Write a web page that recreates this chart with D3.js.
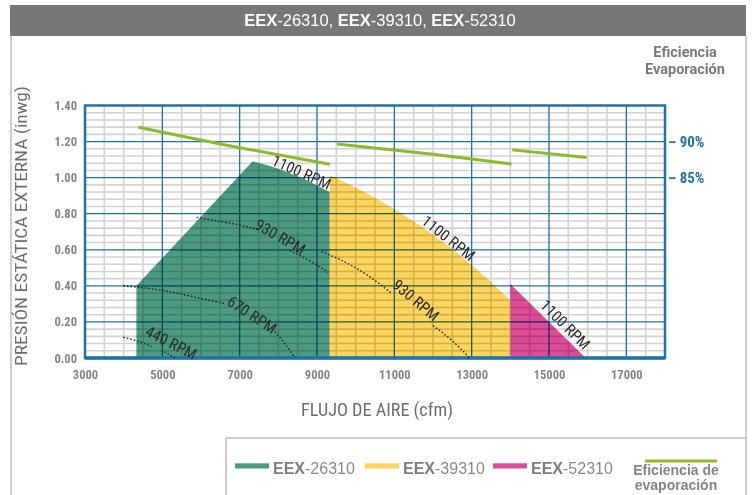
<!DOCTYPE html>
<html><head><meta charset="utf-8">
<script src="https://cdn.jsdelivr.net/npm/d3@7/dist/d3.min.js"></script>
<style>
html,body{margin:0;padding:0;background:#fff;}
svg{display:block;}
</style></head>
<body>
<svg id="chart" width="754" height="495"></svg>
<script>
// ---------- data ----------
const titleParts = [["EEX","-26310, "],["EEX","-39310, "],["EEX","-52310"]];
const xTicks = [3000,5000,7000,9000,11000,13000,15000,17000];
const yTicks = [0,0.2,0.4,0.6,0.8,1.0,1.2,1.4];
const effTicks = [85,90];
const seriesNames = ["EEX-26310","EEX-39310","EEX-52310"];
const seriesColors = ["#4c9a82","#fdd45c","#de4b98"];
// fan envelopes: [cfm, inwg]
const eex26310 = [[4330,0],[4330,0.40],[7330,1.09],[7700,1.07],[8000,1.05],[8350,1.02],[8700,0.99],[9000,0.957],[9330,0.92],[9330,0]];
const eex39310Top = [[9330,1.015],[10400,0.90],[11450,0.765],[12700,0.57],[14000,0.32]];
const eex52310 = [[14000,0],[14000,0.41],[15950,0]];
// RPM curves (null = gap for label)
const rpm930a = [[5890,0.78],[6500,0.757],[7100,0.733],[7480,0.71],null,[8300,0.595],[8800,0.54],[9290,0.475]];
const rpm930b = [[9120,0.59],[9600,0.545],[10300,0.46],[10950,0.355],null,[12000,0.18],[12500,0.095],[12950,0.0]];
const rpm670 = [[3990,0.40],[5000,0.375],[6000,0.33],[6650,0.30],null,[7850,0.16],[8150,0.085],[8430,0.0]];
const rpm440 = [[3990,0.115],[4350,0.095],[4720,0.063],null,[5050,0.035],[5330,0.0]];
const rpmLabels = [
  {t:"1100 RPM", x:8600, y:1.03, a:24},
  {t:"930 RPM",  x:8050, y:0.672, a:30},
  {t:"670 RPM",  x:7320, y:0.24, a:33},
  {t:"440 RPM",  x:5230, y:0.085, a:27},
  {t:"1100 RPM", x:12400, y:0.665, a:38},
  {t:"930 RPM",  x:11560, y:0.32, a:40},
  {t:"1100 RPM", x:15420, y:0.185, a:45}
];
// evaporation efficiency segments: [cfm, %]
const eff1 = [[4380,92.0],[7000,89.15],[9330,86.85]];
const eff2 = [[9520,89.67],[12000,88.25],[14030,86.9]];
const eff3 = [[14050,88.85],[15970,87.8]];

// ---------- scales ----------
const svg = d3.select("#chart");
const x = d3.scaleLinear().domain([3000,18000]).range([85,665]);
const y = d3.scaleLinear().domain([0,1.4]).range([358,105.5]);
const yEff = d3.scaleLinear().domain([85,90]).range([y(1.0), y(1.2)]);
const BLUE = "#1f72aa";
const NARROW = "'Liberation Sans Narrow','Roboto Condensed','Arial Narrow',Roboto,sans-serif";
const SANS = "'Liberation Sans',Arial,sans-serif";

// ---------- frame ----------
svg.append("rect").attr("x",0).attr("y",0).attr("width",754).attr("height",495).attr("fill","#fff");
svg.append("rect").attr("x",10).attr("y",5).attr("width",736).attr("height",31).attr("fill","#777777");
const tt = svg.append("text").attr("x",380).attr("y",26).attr("text-anchor","middle")
  .attr("font-family",SANS).attr("font-size",16.5).attr("fill","#fff");
titleParts.forEach(p=>{ tt.append("tspan").attr("font-weight","bold").text(p[0]); tt.append("tspan").text(p[1]); });
svg.append("line").attr("x1",11).attr("x2",11).attr("y1",36).attr("y2",495).attr("stroke","#bdbdbd").attr("stroke-width",1.5);
svg.append("line").attr("x1",746).attr("x2",746).attr("y1",36).attr("y2",495).attr("stroke","#bdbdbd").attr("stroke-width",1.5);
svg.append("line").attr("x1",226).attr("x2",746).attr("y1",438).attr("y2",438).attr("stroke","#bdbdbd").attr("stroke-width",1.5);
svg.append("line").attr("x1",226).attr("x2",226).attr("y1",438).attr("y2",495).attr("stroke","#bdbdbd").attr("stroke-width",1.5);

// ---------- fills ----------
const lineLin = d3.line().x(d=>x(d[0])).y(d=>y(d[1]));
svg.append("path").attr("d",lineLin(eex26310)+"Z").attr("fill",seriesColors[0]);
const area = d3.area().x(d=>x(d[0])).y0(y(0)).y1(d=>y(d[1])).curve(d3.curveMonotoneX);
svg.append("path").attr("d",area(eex39310Top)).attr("fill",seriesColors[1]);
svg.append("path").attr("d",lineLin(eex52310)+"Z").attr("fill",seriesColors[2]);

// ---------- grid (multiplied over fills) ----------
const grid = svg.append("g").style("mix-blend-mode","multiply");
const majorX = d3.range(5000,18000,2000);
const minorX = d3.range(3500,18000,500).filter(v=>!majorX.includes(v));
const minorY = d3.range(0.04,1.4,0.04).filter(v=>Math.abs(v/0.2-Math.round(v/0.2))>0.01);
const majorY = d3.range(0.2,1.4,0.2);
grid.selectAll(".mx").data(minorX).join("line")
  .attr("x1",d=>x(d)).attr("x2",d=>x(d)).attr("y1",y(1.4)).attr("y2",y(0))
  .attr("stroke","#d2d2d2").attr("stroke-width",1.6);
grid.selectAll(".my").data(minorY).join("line")
  .attr("x1",x(3000)).attr("x2",x(18000)).attr("y1",d=>y(d)).attr("y2",d=>y(d))
  .attr("stroke","#d2d2d2").attr("stroke-width",1.6);
grid.selectAll(".Mx").data(majorX).join("line")
  .attr("x1",d=>x(d)).attr("x2",d=>x(d)).attr("y1",y(1.4)).attr("y2",y(0))
  .attr("stroke",BLUE).attr("stroke-width",1.3);
grid.selectAll(".My").data(majorY).join("line")
  .attr("x1",x(3000)).attr("x2",x(18000)).attr("y1",d=>y(d)).attr("y2",d=>y(d))
  .attr("stroke",BLUE).attr("stroke-width",1.3);

// plot border
svg.append("rect").attr("x",x(3000)).attr("y",y(1.4)).attr("width",x(18000)-x(3000)).attr("height",y(0)-y(1.4))
  .attr("fill","none").attr("stroke",BLUE).attr("stroke-width",2.5);
svg.append("line").attr("x1",x(3000)).attr("x2",x(18000)).attr("y1",y(0)).attr("y2",y(0))
  .attr("stroke",BLUE).attr("stroke-width",3.5);

// ---------- RPM dotted curves ----------
const dotted = d3.line().defined(d=>d!==null).x(d=>x(d[0])).y(d=>y(d[1])).curve(d3.curveMonotoneX);
[rpm930a,rpm930b,rpm670,rpm440].forEach(c=>{
  svg.append("path").attr("d",dotted(c)).attr("fill","none").attr("stroke","#1a1a1a")
    .attr("stroke-width",1.3).attr("stroke-dasharray","1.6,2");
});
svg.selectAll(".rpm").data(rpmLabels).join("text")
  .attr("transform",d=>`translate(${x(d.x)},${y(d.y)}) rotate(${d.a})`)
  .attr("text-anchor","middle").attr("dy","0.35em")
  .attr("font-family",NARROW).attr("font-size",15.5).attr("fill","#2b2b2b").text(d=>d.t);

// ---------- efficiency lines ----------
const effLine = d3.line().x(d=>x(d[0])).y(d=>yEff(d[1])).curve(d3.curveMonotoneX);
[eff1,eff2,eff3].forEach(s=>{
  svg.append("path").attr("d",effLine(s)).attr("fill","none").attr("stroke","#8bbb2b").attr("stroke-width",3);
});

// ---------- axes ----------
const ax = svg.append("g").attr("transform",`translate(0,${y(0)})`)
  .call(d3.axisBottom(x).tickValues(xTicks).tickSize(0).tickPadding(12).tickFormat(d3.format("d")));
ax.select(".domain").remove();
ax.selectAll("text").attr("font-family",NARROW).attr("font-size",12.5).attr("font-weight","bold").attr("fill","#858585");
const ay = svg.append("g").attr("transform",`translate(${x(3000)},0)`)
  .call(d3.axisLeft(y).tickValues(yTicks).tickSize(0).tickPadding(8).tickFormat(d3.format(".2f")));
ay.select(".domain").remove();
ay.selectAll("text").attr("font-family",NARROW).attr("font-size",12.5).attr("font-weight","bold").attr("fill","#858585");
const ar = svg.append("g").attr("transform",`translate(${x(18000)},0)`)
  .call(d3.axisRight(yEff).tickValues(effTicks).tickSize(0).tickPadding(3).tickFormat(d=>"\u2013 "+d+"%"));
ar.select(".domain").remove();
ar.selectAll("text").attr("font-family",NARROW).attr("font-size",15).attr("font-weight","bold").attr("fill",BLUE);

// axis titles
svg.append("text").attr("transform","translate(27,226) rotate(-90)").attr("text-anchor","middle")
  .attr("font-family",NARROW).attr("font-size",16).attr("fill","#6e6e6e")
  .attr("textLength",280).attr("lengthAdjust","spacingAndGlyphs")
  .text("PRESIÓN ESTÁTICA EXTERNA (inwg)");
svg.append("text").attr("x",377).attr("y",416).attr("text-anchor","middle")
  .attr("font-family",NARROW).attr("font-size",18).attr("fill","#6e6e6e")
  .attr("textLength",152).attr("lengthAdjust","spacingAndGlyphs")
  .text("FLUJO DE AIRE (cfm)");
const effT = svg.append("text").attr("text-anchor","middle").attr("font-family","Roboto,sans-serif")
  .attr("font-size",14.5).attr("font-weight","bold").attr("fill","#7a7a7a");
effT.append("tspan").attr("x",685).attr("y",57).text("Eficiencia");
effT.append("tspan").attr("x",685).attr("y",74).text("Evaporación");

// ---------- legend ----------
const legX = [235,365,493];
seriesNames.forEach((n,i)=>{
  svg.append("rect").attr("x",legX[i]).attr("y",463.3).attr("width",34).attr("height",5.2).attr("fill",seriesColors[i]);
  const t = svg.append("text").attr("x",legX[i]+38).attr("y",473.5).attr("font-family",SANS)
    .attr("font-size",16).attr("fill","#8a8a8a");
  const parts = n.split("-");
  t.append("tspan").attr("font-weight","bold").attr("fill","#7d7d7d").text(parts[0]);
  t.append("tspan").text("-"+parts[1]);
});
svg.append("line").attr("x1",645).attr("x2",717).attr("y1",461).attr("y2",461).attr("stroke","#8bbb2b").attr("stroke-width",3.2);
const le = svg.append("text").attr("text-anchor","middle").attr("font-family",SANS)
  .attr("font-size",14).attr("font-weight","bold").attr("fill","#858585");
le.append("tspan").attr("x",676).attr("y",475).text("Eficiencia de");
le.append("tspan").attr("x",676).attr("y",490).text("evaporación");
</script>
</body></html>
